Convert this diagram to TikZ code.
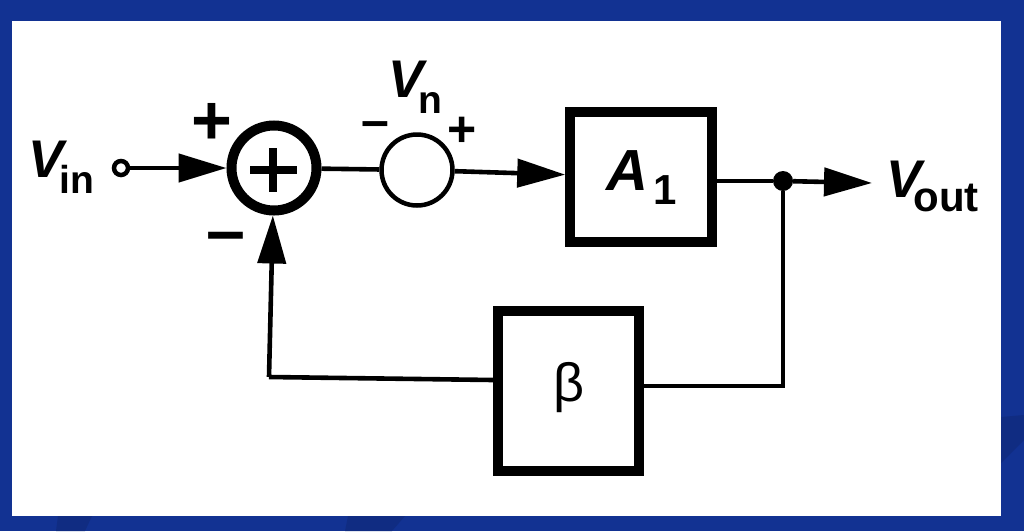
\documentclass[tikz,border=0pt]{standalone}
\usepackage{fontspec}
\setmainfont{Liberation Sans}
\usetikzlibrary{arrows.meta}
\definecolor{bgblue}{RGB}{18,50,146}
\definecolor{bgdark}{RGB}{16,44,130}
\newcommand{\subfont}{\upshape\fontsize{39}{39}\selectfont}
\tikzset{
 x=1pt,y=-1pt,
 wire/.style={line width=4.6pt,draw=black},
 head/.style={-{Triangle[length=48pt,width=28pt,sep=0pt]}},
 blockbox/.style={draw=black,line width=9.5pt,fill=white,inner sep=0pt},
 lab/.style={inner sep=0pt,anchor=base west,font=\bfseries\itshape\fontsize{53}{53}\selectfont},
 sign/.style={inner sep=0pt,font=\bfseries\fontsize{70}{70}\selectfont},
 smallsign/.style={inner sep=0pt,font=\bfseries\fontsize{50}{50}\selectfont},
}
\begin{document}
\begin{tikzpicture}
\useasboundingbox (0,0) rectangle (1024,531);
\fill[bgblue] (0,0) rectangle (1024,531);
\fill[bgdark] (58,516) -- (56,531) -- (85,531) -- (92,516) -- cycle;
\fill[bgdark] (348,516) -- (345,531) -- (392,531) -- (405,516) -- cycle;
\fill[bgdark] (1001,417) -- (1024,415) -- (1024,440) -- (1001,463) -- cycle;
\fill[white] (12,21) rectangle (1001,516);
\node[blockbox,minimum width=142pt,minimum height=130pt] (a) at (641,177) {};
\node[blockbox,minimum width=141pt,minimum height=160pt] (b) at (568.5,391) {};
\node[circle,draw=black,line width=10pt,fill=white,minimum size=85pt,inner sep=0pt] (sum) at (274,168) {};
\node[circle,draw=black,line width=4.5pt,fill=white,minimum size=71pt,inner sep=0pt] (src) at (417,170) {};
\node[circle,draw=black,line width=4.5pt,fill=white,minimum size=14pt,inner sep=0pt] (in) at (121,168) {};
\node[circle,fill=black,minimum size=20pt,inner sep=0pt] (dot) at (783,181) {};
\coordinate (vout) at (872,183);
\coordinate (fb) at (269,377);
\draw[wire,head] (in) -- (sum);
\draw[wire] (sum) -- (src);
\draw[wire,head] (src) -- (a);
\draw[wire] (a.east|-dot) -- (dot);
\draw[wire,head] (dot) -- (vout);
\draw[wire] (dot) |- (b.east|-0,386);
\draw[wire] (b.west|-0,380) -- (fb);
\draw[wire,head] (fb) -- (sum);
\draw[line width=8pt,black] (273,148)--(273,192) (250,170)--(297,170);
\node[lab] (vin) at (28,177) {V\kern-4pt\raisebox{-16pt}{\subfont in}};
\node[lab] (vn) at (388,97) {V\kern-5pt\raisebox{-16pt}{\subfont n}};
\node[inner sep=0pt,font=\bfseries\itshape\fontsize{58}{58}\selectfont] (a1) at (627,171) {A};
\node[inner sep=0pt,font=\bfseries\fontsize{42}{42}\selectfont] (a1b) at (665,190) {1};
\node[inner sep=0pt,font=\fontsize{54}{54}\selectfont] (beta) at (569,388) {β};
\node[lab] (vo) at (886,197) {V\kern-8pt\raisebox{-14pt}{\upshape\fontsize{42}{42}\selectfont out}};
\node[sign] (p1) at (212,124) {+};
\node[sign] (m1) at (226,243) {–};
\node[smallsign] (m2) at (375,130) {–};
\node[smallsign] (p2) at (462,132) {+};
\end{tikzpicture}
\end{document}
